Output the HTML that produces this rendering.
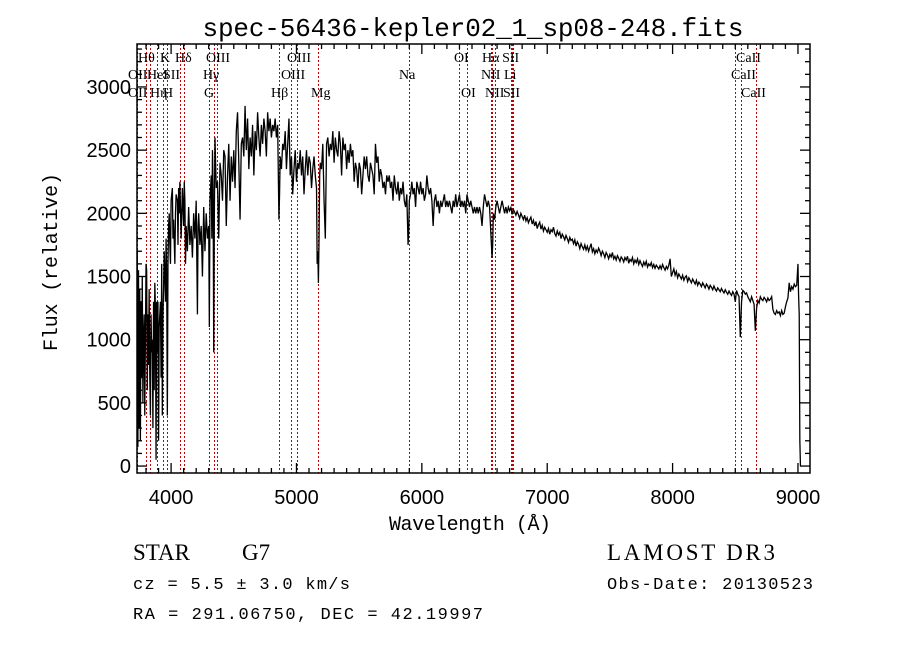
<!DOCTYPE html>
<html><head><meta charset="utf-8"><style>
html,body{margin:0;padding:0;background:#fff;}
svg{display:block;}
text{font-family:"Liberation Sans",sans-serif;fill:#000;}
.serif{font-family:"Liberation Serif",serif;}
.mono{font-family:"Liberation Mono",monospace;}
</style></head><body>
<svg id="chart" width="900" height="649" viewBox="0 0 900 649" xmlns="http://www.w3.org/2000/svg">
<text x="473" y="36" class="mono" font-size="26" text-anchor="middle" textLength="541">spec-56436-kepler02_1_sp08-248.fits</text>
<g id="lines"></g>
<g id="labels"></g>
<g id="ticks"></g>
<polyline id="spec" fill="none" stroke="#000" stroke-width="1.3"/>
<rect x="137" y="44" width="673" height="429" fill="none" stroke="#000" stroke-width="1.5"/>
<text x="470" y="530" class="mono" font-size="20" text-anchor="middle" textLength="162">Wavelength (Å)</text>
<text transform="translate(57,262) rotate(-90)" class="mono" font-size="20" text-anchor="middle" textLength="178">Flux (relative)</text>
<text x="133" y="560" class="serif" font-size="23">STAR</text>
<text x="242" y="560" class="serif" font-size="23">G7</text>
<text x="607" y="560" class="serif" font-size="23" textLength="168">LAMOST DR3</text>
<text x="133" y="589" class="mono" font-size="17" textLength="217">cz = 5.5 ± 3.0 km/s</text>
<text x="607" y="589" class="mono" font-size="17" textLength="206">Obs-Date: 20130523</text>
<text x="133" y="619" class="mono" font-size="17" textLength="350">RA = 291.06750, DEC =  42.19997</text>
</svg>
<script>
const wave = [3730,3735,3740,3745,3750,3755,3760,3765,3770,3775,3780,3785,3790,3795,3800,3805,3810,3815,3820,3825,3830,3835,3840,3845,3850,3855,3860,3865,3870,3875,3880,3885,3890,3895,3900,3905,3910,3915,3920,3925,3930,3935,3940,3945,3950,3955,3960,3965,3970,3975,3980,3985,3990,3995,4000,4010,4015,4020,4030,4035,4040,4050,4055,4060,4065,4070,4080,4090,4100,4105,4110,4115,4120,4130,4140,4150,4160,4170,4180,4190,4200,4210,4215,4220,4230,4240,4250,4260,4270,4280,4290,4300,4305,4310,4320,4325,4330,4335,4340,4345,4350,4360,4370,4380,4390,4400,4410,4420,4430,4440,4450,4460,4470,4480,4490,4500,4510,4520,4530,4540,4550,4560,4570,4580,4590,4600,4610,4620,4630,4640,4650,4660,4670,4680,4690,4700,4710,4720,4730,4740,4750,4760,4770,4780,4790,4800,4810,4820,4830,4840,4850,4860,4865,4870,4880,4890,4900,4910,4920,4930,4940,4950,4960,4970,4980,4990,5000,5010,5020,5030,5040,5050,5060,5070,5080,5090,5100,5110,5120,5130,5140,5150,5160,5165,5170,5175,5180,5185,5190,5200,5210,5220,5230,5240,5250,5260,5270,5280,5290,5300,5310,5320,5330,5340,5350,5360,5370,5380,5390,5400,5410,5420,5430,5440,5450,5460,5470,5480,5490,5500,5510,5520,5530,5540,5550,5560,5570,5580,5590,5600,5610,5620,5630,5640,5650,5660,5670,5680,5690,5700,5710,5720,5730,5740,5750,5760,5770,5780,5790,5800,5810,5820,5830,5840,5850,5860,5870,5880,5890,5895,5900,5910,5920,5930,5940,5950,5960,5970,5980,5990,6000,6010,6020,6030,6040,6050,6060,6070,6080,6090,6100,6110,6120,6130,6140,6150,6160,6170,6180,6190,6200,6210,6220,6230,6240,6250,6260,6270,6280,6290,6300,6310,6320,6330,6340,6350,6360,6370,6380,6390,6400,6410,6420,6430,6440,6450,6460,6470,6480,6490,6500,6510,6520,6530,6540,6550,6560,6565,6570,6580,6590,6600,6610,6620,6630,6640,6650,6660,6670,6680,6690,
6700,6710,6720,6730,6740,6750,6760,6770,6780,6790,6800,6810,6820,6830,6840,6850,6860,6870,6880,6890,6900,6910,6920,6930,6940,6950,6960,6970,6980,6990,
7000,7010,7020,7030,7040,7050,7060,7070,7080,7090,7100,7110,7120,7130,7140,7150,7160,7170,7180,7190,7200,7210,7220,7230,7240,7250,7260,7270,7280,7290,
7300,7310,7320,7330,7340,7350,7360,7370,7380,7390,7400,7410,7420,7430,7440,7450,7460,7470,7480,7490,7500,7510,7520,7530,7540,7550,7560,7570,7580,7590,
7600,7610,7620,7630,7640,7650,7660,7670,7680,7690,7700,7710,7720,7730,7740,7750,7760,7770,7780,7790,7800,7810,7820,7830,7840,7850,7860,7870,7880,7890,
7900,7910,7920,7930,7940,7950,7960,7970,7980,7990,8000,8010,8020,8030,8040,8050,8060,8070,8080,8090,8100,8110,8120,8130,8140,8150,8160,8170,8180,8190,
8200,8210,8220,8230,8240,8250,8260,8270,8280,8290,8300,8310,8320,8330,8340,8350,8360,8370,8380,8390,8400,8410,8420,8430,8440,8450,8460,8470,8480,8490,
8500,8510,8520,8530,8540,8550,8560,8570,8580,8590,8600,8610,8620,8630,8640,8650,8660,8670,8680,8690,8700,8710,8720,8730,8740,8750,8760,8770,8780,8790,
8800,8810,8820,8830,8840,8850,8860,8870,8880,8890,8900,8910,8920,8930,8940,8950,8960,8970,8980,8990,9000,9005,9010,9015,9020];
const flux = [1700,150,1550,300,1400,200,1300,700,1500,500,1000,1200,400,1000,1600,1550,600,1200,800,1400,700,400,1200,900,1000,300,1300,600,1450,1250,50,1300,900,1300,200,1100,1200,1300,700,1600,400,1200,1400,1700,1500,1300,1800,1500,400,1600,1900,2000,1750,1600,2100,2200,1800,1950,1600,2000,2150,2100,1750,2200,2000,2250,1800,2200,1900,2250,2100,1600,1900,1700,2050,1750,1900,1650,2000,1800,2100,1200,1900,2000,1750,1900,1500,2050,1700,2000,1800,1900,1100,2100,2300,1800,2500,2200,900,2000,2600,2200,2250,1800,2400,2300,2100,2500,2450,1900,2300,2550,2100,2450,2250,2500,2200,2650,2800,2400,1950,2550,2600,2450,2850,2500,2750,2350,2600,2450,2700,2300,2650,2500,2800,2600,2450,2700,2550,2750,2650,2450,2800,2650,2750,2600,2700,2650,2750,2600,2700,1950,2150,2450,2350,2550,2500,2650,2350,2550,2750,2300,2450,2150,2350,2500,2250,2400,2350,2500,2300,2450,2150,2350,2500,2300,2450,2400,2200,2350,2450,2300,2200,1600,1700,1450,1800,2300,2400,2350,2550,2100,1800,2550,2600,2450,2550,2500,2650,2400,2600,2500,2450,2650,2550,2300,2600,2500,2550,2350,2500,2400,2550,2450,2500,2250,2400,2350,2200,2400,2350,2150,2300,2450,2350,2450,2300,2250,2400,2350,2300,2150,2550,2400,2450,2250,2350,2300,2200,2250,2150,2300,2250,2300,2200,2250,2100,2300,2200,2150,2250,2100,2200,2150,2250,2100,2050,2150,1750,1850,2100,2150,2250,2150,2200,2050,2250,2200,2150,2250,2150,2200,2100,2150,2300,2200,2150,2200,2100,1900,2100,2150,2050,2100,2000,2100,2050,2100,2150,2050,2100,2050,2100,2050,2000,2100,2050,2150,2050,2100,2150,2050,2100,2050,2100,2000,2150,2100,2050,2100,2050,2000,2050,2000,2050,2000,2050,2000,1900,2050,2150,2100,2050,2100,2050,1850,1650,1750,2000,1950,2050,2100,2050,2000,2050,2100,2050,2000,2050,2000,2050,
2020,2045,2000,2030,2010,1985,2015,1990,1960,2000,1975,1950,1985,1940,1965,1925,1950,1970,1915,1945,1900,1935,1880,1910,1930,1875,1905,1860,1890,1870,
1850,1880,1835,1870,1855,1890,1840,1820,1860,1830,1850,1800,1835,1815,1790,1825,1800,1770,1810,1785,1795,1760,1790,1740,1775,1755,1720,1760,1735,1715,
1750,1710,1740,1700,1730,1760,1695,1720,1680,1710,1690,1725,1700,1665,1700,1680,1650,1690,1670,1640,1675,1655,1690,1640,1660,1630,1665,1645,1620,1655,
1640,1615,1650,1630,1660,1605,1635,1620,1650,1600,1630,1610,1640,1595,1625,1600,1580,1615,1590,1620,1575,1600,1585,1610,1570,1595,1565,1590,1575,1560,
1585,1560,1595,1570,1550,1580,1560,1590,1640,1500,1530,1560,1510,1540,1490,1520,1500,1480,1510,1470,1495,1505,1460,1490,1470,1450,1480,1460,1440,1470,
1430,1455,1440,1420,1450,1430,1410,1440,1425,1400,1430,1415,1395,1425,1400,1385,1410,1395,1380,1405,1385,1370,1395,1375,1360,1385,1365,1350,1380,1360,
1300,1390,1360,1340,1020,1300,1390,1380,1360,1370,1340,1320,1300,1340,1310,1280,1070,1250,1310,1290,1340,1320,1310,1335,1320,1300,1330,1310,1320,1340,
1240,1210,1200,1230,1210,1220,1190,1230,1200,1210,1260,1300,1330,1450,1380,1420,1400,1440,1420,1430,1600,1350,1200,200,0];
const xTicks = [4000,5000,6000,7000,8000,9000];
const yTicks = [0,500,1000,1500,2000,2500,3000];
const lineWaves = [3727,3798,3835,3889,3934,3969,4072,4102,4304,4341,4363,4861,4959,5007,5175,5894,6300,6364,6548,6563,6583,6708,6716,6731,8498,8542,8662];
const labelText = ["Hθ","K","Hδ","OIII","OIII","OI","Hα","SII","CaII","OII","HeI","SII","Hγ","OIII","Na","NII","Li","CaII","OII","Hη","H","G","Hβ","Mg","OI","NII","SII","CaII"];
const labelWave = [3736,3911,4031,4278,4924,6256,6480,6640,8506,3656,3808,3935,4254,4877,5818,6472,6655,8466,3656,3832,3935,4262,4797,5116,6312,6504,6647,8546];
const labelRow = [0,0,0,0,0,0,0,0,0,1,1,1,1,1,1,1,1,1,2,2,2,2,2,2,2,2,2,2];

const X0=137,X1=810,Y0=44,Y1=473;
const WMIN=3728,WMAX=9096,FMIN=-55,FMAX=3340;
const xs = w => X0 + (w-WMIN)/(WMAX-WMIN)*(X1-X0);
const ys = f => Y1 - (f-FMIN)/(FMAX-FMIN)*(Y1-Y0);
const NS="http://www.w3.org/2000/svg";
const mk=(t,a)=>{const e=document.createElementNS(NS,t);for(const k in a)e.setAttribute(k,a[k]);return e;};

const pts=[];
for(let i=0;i<wave.length;i++){pts.push(xs(wave[i]).toFixed(2)+","+Math.max(Y0,Math.min(Y1,ys(flux[i]))).toFixed(2));}
document.getElementById('spec').setAttribute('points',pts.join(' '));

const lg=document.getElementById('lines');
lineWaves.forEach(w=>{
  const x=Math.round(xs(w))+0.5;
  const l=mk('line',{x1:x,x2:x,y1:Y0,y2:Y1,stroke:'#c00000','stroke-width':1,'stroke-dasharray':'2,2'});
  
  
  lg.appendChild(l);
});

const lb=document.getElementById('labels');
const rowY=[62,79,97];
labelText.forEach((t,i)=>{
  const e=mk('text',{x:xs(labelWave[i]),y:rowY[labelRow[i]],'font-size':14,'class':'serif'});
  e.textContent=t;
  
  
  lb.appendChild(e);
});

const tg=document.getElementById('ticks');
for(let w=3800;w<=9000;w+=100){
  const major=w%1000===0, L=major?10:5;
  const x=xs(w);
  tg.appendChild(mk('line',{x1:x,x2:x,y1:Y1,y2:Y1-L,stroke:'#000','stroke-width':1.3}));
  tg.appendChild(mk('line',{x1:x,x2:x,y1:Y0,y2:Y0+L,stroke:'#000','stroke-width':1.3}));
}
for(let f=0;f<=3300;f+=100){
  const major=f%500===0, L=major?10:5;
  const y=ys(f);
  tg.appendChild(mk('line',{x1:X0,x2:X0+L,y1:y,y2:y,stroke:'#000','stroke-width':1.3}));
  tg.appendChild(mk('line',{x1:X1,x2:X1-L,y1:y,y2:y,stroke:'#000','stroke-width':1.3}));
}
xTicks.forEach(v=>{
  const e=mk('text',{x:xs(v),y:504,'font-size':20,'text-anchor':'middle'});
  e.textContent=v;
  
  
  tg.appendChild(e);
});
yTicks.forEach(v=>{
  const e=mk('text',{x:131,y:ys(v)+7,'font-size':20,'text-anchor':'end'});
  e.textContent=v;
  
  
  tg.appendChild(e);
});
</script>
</body></html>
